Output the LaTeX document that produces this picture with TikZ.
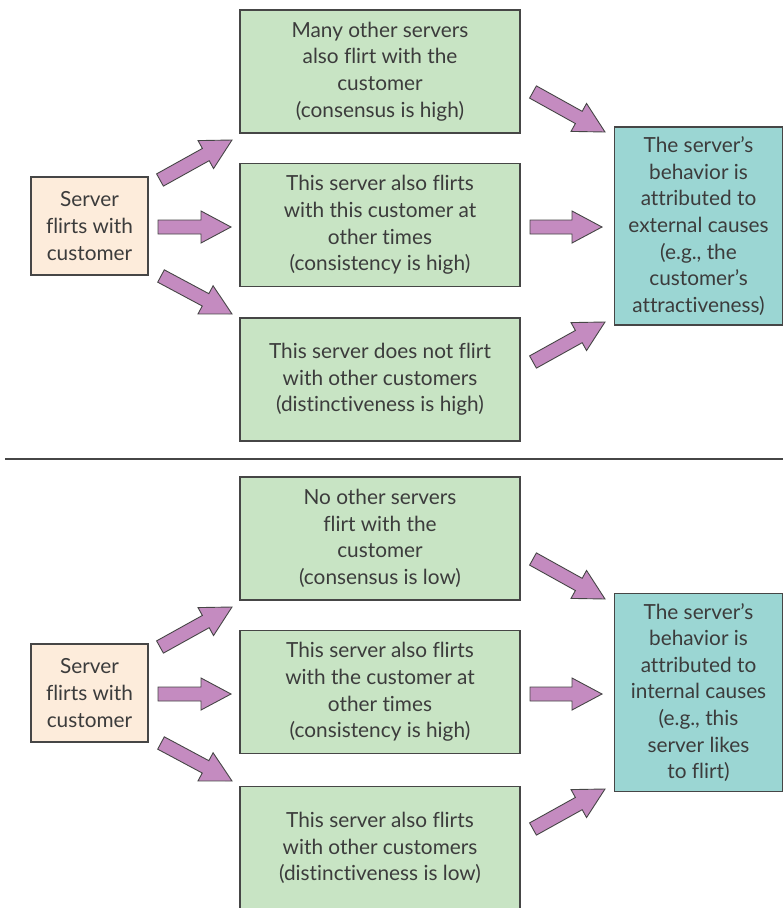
\documentclass[tikz,border=0pt]{standalone}
\usepackage{fontspec}
\setmainfont{Lato}[Ligatures=NoCommon]
\usepackage{xcolor}
\usetikzlibrary{calc}
\usetikzlibrary{positioning}

\definecolor{boxgreen}{RGB}{200,228,196}
\definecolor{boxcream}{RGB}{253,236,219}
\definecolor{boxteal}{RGB}{155,214,211}
\definecolor{arrowpurple}{RGB}{196,139,192}
\definecolor{edgegrey}{RGB}{70,70,70}
\definecolor{textgrey}{RGB}{60,60,60}

\tikzset{
	box/.style={draw=edgegrey,line width=1.2pt,text=textgrey,align=center,inner sep=0pt,
		font=\fontsize{20.8}{26.6}\selectfont},
	cause/.style={box,fill=boxcream,minimum width=117pt,minimum height=98pt},
	info/.style={box,fill=boxgreen,minimum width=280pt,minimum height=123pt},
	verdict/.style={box,fill=boxteal,minimum width=168pt,minimum height=198pt},
	fat/.style={draw=edgegrey,line width=0.9pt,fill=arrowpurple,line join=miter}
}

% block arrow from #1 (tail) to #2 (tip)
\newcommand{\fatarrow}[2]{%
	\coordinate (hb) at ($(#2)!30pt!(#1)$);
	\draw[fat] ($(#1)!7pt!90:(#2)$) -- ($(hb)!7pt!90:(#2)$) -- ($(hb)!16pt!90:(#2)$) -- (#2)
		-- ($(hb)!16pt!-90:(#2)$) -- ($(hb)!7pt!-90:(#2)$) -- ($(#1)!7pt!-90:(#2)$) -- cycle;}

\begin{document}
\begin{tikzpicture}[x=1pt,y=-1pt]
	\useasboundingbox (0,0) rectangle (783,908);
	\clip (0,0) rectangle (783,908);

	% upper case: external causes
	\node (up-src) at (89.5,226) [cause] {Server\\flirts with\\customer};
	\node (up-cons) at (380,71.5) [info] {Many other servers\\also flirt with the\\customer\\(consensus is high)};
	\node (up-cst) at (380,225) [info] {This server also flirts\\with this customer at\\other times\\(consistency is high)};
	\node (up-dist) at (380,379.5) [info] {This server does not flirt\\with other customers\\(distinctiveness is high)};
	\node (up-res) at (698.5,226) [verdict] {The server's\\behavior is\\attributed to\\external causes\\(e.g., the\\customer's\\attractiveness)};

	% separator
	\coordinate (sep-l) at (5,459);
	\coordinate (sep-r) at (783,459);
	\draw[edgegrey,line width=1.3pt] (sep-l) -- (sep-r);

	% lower case: internal causes
	\node (lo-src) at (89.5,693) [cause] {Server\\flirts with\\customer};
	\node (lo-cons) at (380,538.5) [info] {No other servers\\flirt with the\\customer\\(consensus is low)};
	\node (lo-cst) at (380,692) [info] {This server also flirts\\with the customer at\\other times\\(consistency is high)};
	\node (lo-dist) at (380,848) [info] {This server also flirts\\with other customers\\(distinctiveness is low)};
	\node (lo-res) at (698.5,692.5) [verdict] {The server's\\behavior is\\attributed to\\internal causes\\(e.g., this\\server likes\\to flirt)};

	% arrow ends for both cases
	\foreach \s/\o in {up/0,lo/467}
	{
		\coordinate (\s-a) at (160,180+\o);
		\coordinate (\s-b) at (232,140+\o);
		\coordinate (\s-c) at (158,227+\o);
		\coordinate (\s-d) at (231,227+\o);
		\coordinate (\s-e) at (161,276+\o);
		\coordinate (\s-f) at (232,314+\o);
		\coordinate (\s-g) at (533,92+\o);
		\coordinate (\s-h) at (605,132+\o);
		\coordinate (\s-i) at (530,227+\o);
		\coordinate (\s-j) at (602,227+\o);
		\coordinate (\s-k) at (533,362+\o);
		\coordinate (\s-l) at (605,322+\o);
	}

	% draw block arrows
	\foreach \s in {up,lo}
	{
		\fatarrow{\s-a}{\s-b}
		\fatarrow{\s-c}{\s-d}
		\fatarrow{\s-e}{\s-f}
		\fatarrow{\s-g}{\s-h}
		\fatarrow{\s-i}{\s-j}
		\fatarrow{\s-k}{\s-l}
	}
\end{tikzpicture}
\end{document}
